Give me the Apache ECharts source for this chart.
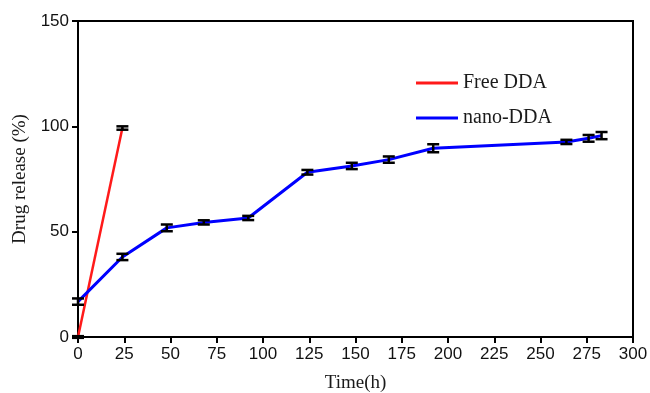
<!DOCTYPE html>
<html>
<head>
<meta charset="utf-8">
<script src="https://cdn.jsdelivr.net/npm/echarts@6/dist/echarts.min.js"></script>
<style>
  html, body { margin: 0; padding: 0; background: #fff; }
  #main { width: 650px; height: 393px; }
</style>
</head>
<body>
<div id="main"></div>
<script>
// 데이터
var freeTime = [0, 24];
var freeRelease = [0, 99.2];
var freeErr = [0.4, 0.8];

var nanoTime = [0, 24, 48, 68, 92, 124, 148, 168, 192, 264, 276, 283];
var nanoRelease = [16.8, 38, 51.8, 54.4, 56.5, 78.2, 81.2, 84.2, 89.6, 92.6, 94.3, 95.6];
var nanoErr = [1.5, 1.5, 1.6, 1, 1, 1.1, 1.5, 1.5, 1.9, 1, 1.6, 1.7];

var xTicks = [0, 25, 50, 75, 100, 125, 150, 175, 200, 225, 250, 275, 300];
var yTicks = [0, 50, 100, 150];

function pairs(xs, ys) {
	return xs.map(function (x, i) { return [x, ys[i]]; });
}
function errData(xs, ys, es) {
	return xs.map(function (x, i) { return [x, ys[i], es[i]]; });
}

// 에러바
function renderErr(params, api) {
	var x = api.value(0), y = api.value(1), e = api.value(2);
	var top = api.coord([x, y + e]);
	var bot = api.coord([x, y - e]);
	var hw = 6;
	var st = { stroke: '#000', lineWidth: 2.5 };
	return {
		type: 'group',
		children: [
			{ type: 'line', shape: { x1: top[0], y1: top[1], x2: bot[0], y2: bot[1] }, style: st },
			{ type: 'line', shape: { x1: top[0] - hw, y1: top[1], x2: top[0] + hw, y2: top[1] }, style: st },
			{ type: 'line', shape: { x1: bot[0] - hw, y1: bot[1], x2: bot[0] + hw, y2: bot[1] }, style: st }
		]
	};
}

var chart = echarts.init(document.getElementById('main'));
var option = {
	animation: false,
	backgroundColor: '#fff',
	grid: {
		left: 78, right: 17, top: 21, bottom: 56,
		outerBoundsMode: 'none',
		show: true, borderColor: '#000', borderWidth: 2
	},
	legend: {
		orient: 'vertical',
		left: 411, top: 68,
		itemWidth: 42, itemHeight: 3, itemGap: 15,
		icon: 'rect',
		data: ['Free DDA', 'nano-DDA'],
		textStyle: { fontFamily: 'Liberation Serif', fontSize: 20, color: '#1a1a1a', lineHeight: 20 }
	},
	xAxis: {
		type: 'value',
		min: 0, max: 300, interval: 25,
		name: 'Time(h)',
		nameLocation: 'middle',
		nameGap: 37,
		nameTextStyle: { fontFamily: 'Liberation Serif', fontSize: 19, color: '#1a1a1a' },
		axisLine: { lineStyle: { color: '#000', width: 2 } },
		axisTick: { show: true, length: 6, lineStyle: { color: '#000', width: 2 } },
		axisLabel: {
			margin: 9, color: '#111', fontFamily: 'Liberation Sans', fontSize: 17,
			customValues: xTicks
		},
		splitLine: { show: false }
	},
	yAxis: {
		type: 'value',
		min: 0, max: 150, interval: 50,
		name: 'Drug release (%)',
		nameLocation: 'middle',
		nameGap: 43,
		nameRotate: 90,
		nameTextStyle: { fontFamily: 'Liberation Serif', fontSize: 19, color: '#1a1a1a' },
		axisLine: { show: true, lineStyle: { color: '#000', width: 2 } },
		axisTick: { show: true, length: 6, lineStyle: { color: '#000', width: 2 } },
		axisLabel: {
			margin: 9, color: '#111', fontFamily: 'Liberation Sans', fontSize: 17,
			customValues: yTicks
		},
		splitLine: { show: false }
	},
	series: [
		{
			name: 'Free DDA',
			type: 'line',
			data: pairs(freeTime, freeRelease),
			symbol: 'none',
			lineStyle: { color: '#ff1a1a', width: 2.5 },
			itemStyle: { color: '#ff1a1a' },
			z: 2
		},
		{
			name: 'nano-DDA',
			type: 'line',
			data: pairs(nanoTime, nanoRelease),
			symbol: 'none',
			lineStyle: { color: '#0000ff', width: 3 },
			itemStyle: { color: '#0000ff' },
			z: 3
		},
		{
			type: 'custom',
			renderItem: renderErr,
			data: errData(freeTime, freeRelease, freeErr),
			encode: { x: 0, y: 1 },
			z: 5
		},
		{
			type: 'custom',
			renderItem: renderErr,
			data: errData(nanoTime, nanoRelease, nanoErr),
			encode: { x: 0, y: 1 },
			z: 5
		}
	]
};
chart.setOption(option);
</script>
</body>
</html>
